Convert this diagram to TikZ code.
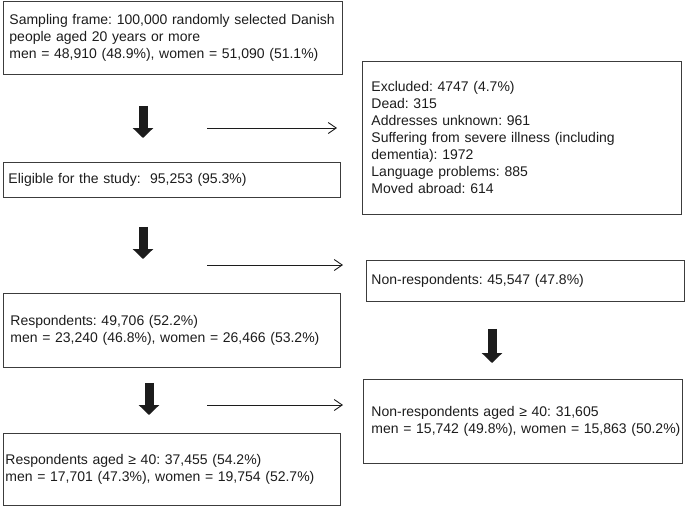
\documentclass[tikz,border=0pt]{standalone}
\usepackage{fontspec}
\setmainfont{Liberation Sans}
\definecolor{framegray}{RGB}{60,60,60}
\definecolor{inkblack}{RGB}{28,28,28}
\usetikzlibrary{arrows.meta,positioning,calc}

\begin{document}
\begin{tikzpicture}[x=1pt,y=-1pt,
      stage/.style={draw=framegray,line width=0.9pt,anchor=north west,
                align=left,inner ysep=0pt,text=inkblack,
                font=\fontsize{14}{17}\selectfont,
                execute at begin node={\frenchspacing\hyphenpenalty=10000}},
      fat/.style={draw=inkblack,line width=9pt,
                -{Triangle[width=20pt,length=10pt]}},
      flow/.style={draw=inkblack,line width=0.9pt,
                -{Straight Barb[length=8pt,width=11pt]}}]
      \useasboundingbox (0,0) rectangle (685,507);
      % left column
      \node[stage,minimum width=339pt,minimum height=73pt,inner xsep=6pt,
            text width=327pt] (frame) at (3,1)
        {Sampling frame: 100,000 randomly selected Danish\\
         people aged 20 years or more\\
         men = 48,910 (48.9\%), women = 51,090 (51.1\%)};
      \node[stage,minimum width=337pt,minimum height=35pt,inner xsep=5pt,
            text width=327pt] (elig) at (3,162)
        {Eligible for the study:\ \ 95,253 (95.3\%)};
      \node[stage,minimum width=337pt,minimum height=74pt,inner xsep=7pt,
            text width=323pt] (resp) at (3,293)
        {Respondents: 49,706 (52.2\%)\\
         men = 23,240 (46.8\%), women = 26,466 (53.2\%)};
      \node[stage,minimum width=337pt,minimum height=72pt,inner xsep=2pt,
            text width=333pt] (resp40) at (3,433)
        {Respondents aged ≥ 40: 37,455 (54.2\%)\\
         men = 17,701 (47.3\%), women = 19,754 (52.7\%)};
      % right column
      \node[stage,minimum width=319pt,minimum height=153pt,inner xsep=9pt,
            text width=301pt] (excl) at (362,61)
        {Excluded: 4747 (4.7\%)\\
         Dead: 315\\
         Addresses unknown: 961\\
         Suffering from severe illness (including\\
         dementia): 1972\\
         Language problems: 885\\
         Moved abroad: 614};
      \node[stage,minimum width=318pt,minimum height=41pt,inner xsep=5pt,
            text width=308pt] (nonresp) at (366,260)
        {Non-respondents: 45,547 (47.8\%)};
      \node[stage,minimum width=319pt,minimum height=84pt,inner xsep=8pt,
            text width=303pt] (nonresp40) at (363,379)
        {Non-respondents aged ≥ 40: 31,605\\
         \mbox{men = 15,742 (49.8\%), women = 15,863 (50.2\%)}};
      % downward arrows
      \draw[fat] ($(frame.south west)+(140,31)$) -- ($(elig.north west)+(140,-24)$);
      \draw[fat] ($(elig.south west)+(140,29)$) -- ($(resp.north west)+(140,-34)$);
      \draw[fat] ($(resp.south west)+(146,15)$) -- ($(resp40.north west)+(146,-18)$);
      \draw[fat] ($(nonresp.south west)+(126,27)$) -- ($(nonresp40.north west)+(129,-16)$);
      % sideways arrows
      \draw[flow] ($(excl.north west)+(-155,67)$) -- ($(excl.north west)+(-25,67)$);
      \draw[flow] ($(nonresp.north west)+(-159,5)$) -- ($(nonresp.north west)+(-23,5)$);
      \draw[flow] ($(nonresp40.north west)+(-156,26)$) -- ($(nonresp40.north west)+(-20,26)$);
    \end{tikzpicture}
\end{document}
